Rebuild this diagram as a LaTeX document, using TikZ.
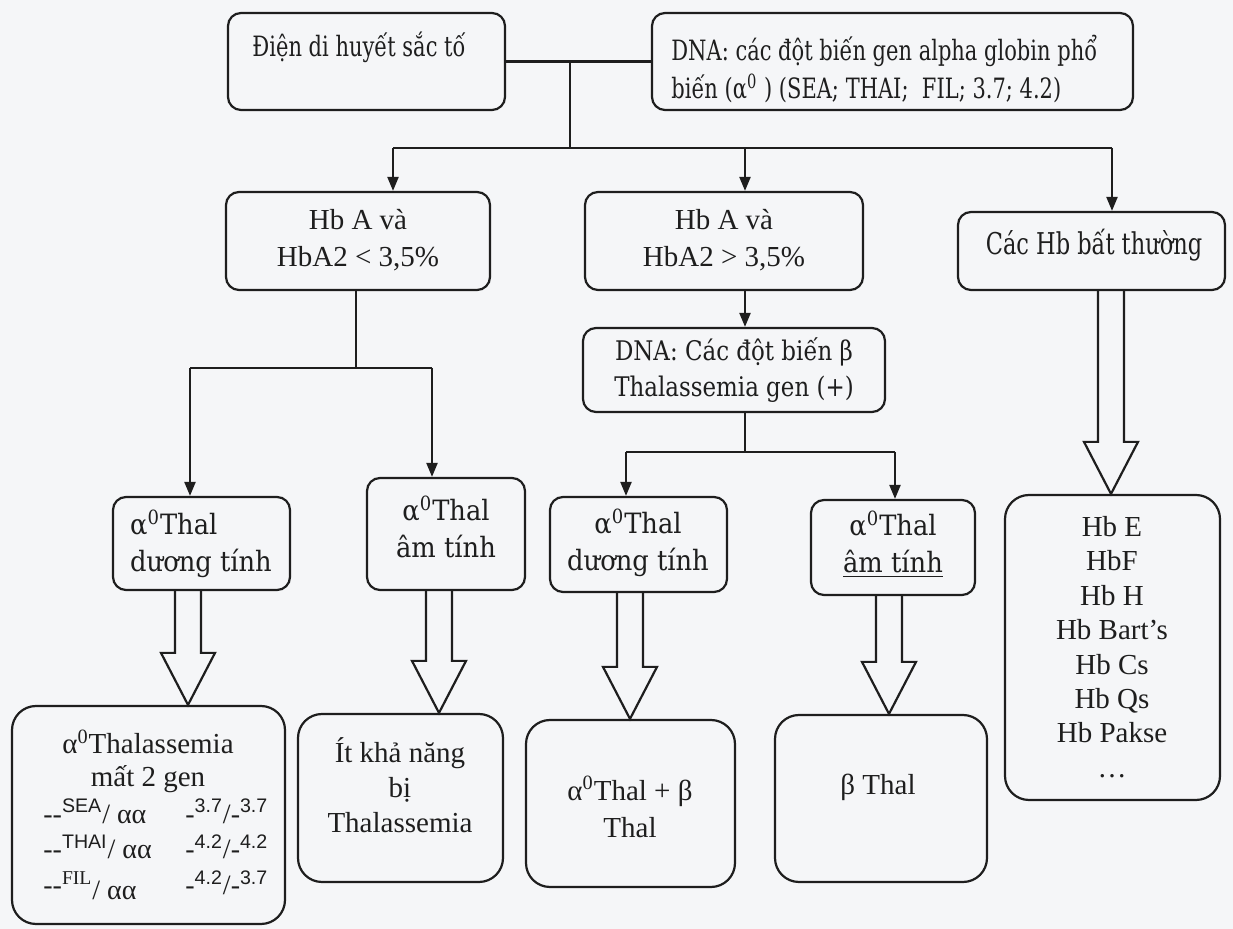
\documentclass[tikz,border=0pt]{standalone}
\usepackage{fontspec}
\setmainfont{Liberation Serif}
\setsansfont{Liberation Sans}
\newfontfamily\fbfam[FakeStretch=0.75]{DejaVu Serif}
\newfontfamily\fcfam[FakeStretch=0.92]{DejaVu Serif}
\newfontfamily\fdfam[FakeStretch=0.85]{DejaVu Serif}
\usetikzlibrary{arrows.meta,fit,calc}
\definecolor{ink}{RGB}{30,30,30}
\definecolor{bgc}{RGB}{245,246,248}
\newcommand\blockarr[3]{%
  \draw[blk] let \p1=(#1), \p2=(#2), \p3=(#3,0) in
    (\x3-6.5pt,\y1) -- (\x3-6.5pt,\y2+26pt) -- (\x3-13.5pt,\y2+26pt) -- (\x3,\y2)
    -- (\x3+13.5pt,\y2+26pt) -- (\x3+6.5pt,\y2+26pt) -- (\x3+6.5pt,\y1);}
\begin{document}
\begin{tikzpicture}[x=0.5pt,y=-0.5pt,
  box/.style={draw=ink, line width=1.1pt, rounded corners=6.5pt, inner sep=0pt},
  bigbox/.style={box, rounded corners=12pt},
  arr/.style={draw=ink, line width=1.1pt, -{Triangle[length=7pt,width=5.5pt]}},
  ln/.style={draw=ink, line width=1.1pt},
  blk/.style={draw=ink, line width=1.1pt, line join=miter},
  txt/.style={inner sep=0pt, align=center, text=ink},
  fA/.style={txt, font=\fontsize{14.5}{18.5}\selectfont},
  fB/.style={txt, font=\fbfam\fontsize{14}{19}\selectfont},
  fB2/.style={txt, font=\fbfam\fontsize{15}{19}\selectfont},
  fC/.style={txt, font=\fcfam\fontsize{14}{18.5}\selectfont},
  fD/.style={txt, font=\fdfam\fontsize{13.5}{18}\selectfont},
  fL/.style={txt, font=\fontsize{14.5}{17.2}\selectfont},
  fF/.style={txt, font=\fontsize{14}{17.5}\selectfont},
]
\fill[bgc] (0,0) rectangle (1233,929);
\useasboundingbox (0,0) rectangle (1233,929);

% row 1
\node[box, fit={(228,13) (505,110)}] (b1) {};
\node[fB, anchor=west] (t1) at (252,47) {Điện di huyết sắc tố};
\node[box, fit={(652,13) (1133,110)}] (b2) {};
\node[fB, anchor=west, align=left] (t2) at (671,69)
  {DNA: các đột biến gen alpha globin phổ\\biến (α\textsuperscript{0} ) (SEA; THAI;~ FIL; 3.7; 4.2)};
\draw[ln] (b1.east) -- (b2.west);
\coordinate (j1) at (570,61.5);
\coordinate (j2) at (570,148);
\draw[ln] (j1) -- (j2);
\coordinate (h1) at (393,148);
\coordinate (h2) at (745,148);
\coordinate (h3) at (1112,148);
\draw[ln] (h1) -- (h3);

% row 2
\node[box, fit={(226,192) (490,290)}] (l2) {};
\node[fA] (tl2) at (358,240) {Hb A và\\HbA2 < 3,5\%};
\node[box, fit={(585,192) (863,290)}] (m2) {};
\node[fA] (tm2) at (724,240) {Hb A và\\HbA2 > 3,5\%};
\node[box, fit={(958,212) (1225,290)}] (r2) {};
\node[fB2] (tr2) at (1094,245) {Các Hb bất thường};
\draw[arr] (h1) -- (h1 |- l2.north);
\draw[arr] (h2) -- (h2 |- m2.north);
\draw[arr] (h3) -- (h3 |- r2.north);

% DNA beta
\node[box, fit={(583,328) (885,412)}] (db) {};
\node[fD] (tdb) at (734,370) {DNA: Các đột biến β\\Thalassemia gen (+)};
\draw[arr] (h2 |- m2.south) -- (h2 |- db.north);

% row 3
\node[box, fit={(113,497) (290,590)}] (r31) {};
\node[fC, align=left] (t31) at (201,544) {α\textsuperscript{0}Thal\\dương tính};
\node[box, fit={(367,478) (525,590)}] (r32) {};
\node[fC] (t32) at (446,527) {α\textsuperscript{0}Thal\\âm tính};
\node[box, fit={(550,497) (727,592)}] (r33) {};
\node[fC] (t33) at (638,543) {α\textsuperscript{0}Thal\\dương tính};
\node[box, fit={(811,500) (975,595)}] (r34) {};
\node[fC] (t34) at (893,544) {α\textsuperscript{0}Thal\\\underline{âm tính}};
\node[bigbox, fit={(1005,495) (1220,800)}] (he) {};
\node[fL] (the) at (1112,647) {Hb E\\HbF\\Hb H\\Hb Bart’s\\Hb Cs\\Hb Qs\\Hb Pakse\\…};

\coordinate (lb) at (356,368);
\coordinate (lb1) at (190,368);
\coordinate (lb2) at (432,368);
\draw[ln] (l2.south -| lb) -- (lb);
\draw[ln] (lb1) -- (lb2);
\draw[arr] (lb1) -- (lb1 |- r31.north);
\draw[arr] (lb2) -- (lb2 |- r32.north);

\coordinate (dj) at (745,452);
\coordinate (dj1) at (626,452);
\coordinate (dj2) at (895,452);
\draw[ln] (h2 |- db.south) -- (dj);
\draw[ln] (dj1) -- (dj2);
\draw[arr] (dj1) -- (dj1 |- r33.north);
\draw[arr] (dj2) -- (dj2 |- r34.north);

% row 4
\node[bigbox, fit={(12,706) (285,924)}] (r41) {};
\node[fA] (t41a) at (148,742) {α\textsuperscript{0}Thalassemia};
\node[fA] (t41b) at (148,779) {mất 2 gen};
\node[fF, anchor=west, align=left] (t41c) at (43,852) {%
  \begin{tabular}{@{}p{71pt}@{}l@{}}
  {-}{-}\textsuperscript{\sffamily SEA}/ αα & -\textsuperscript{\sffamily 3.7}/-\textsuperscript{\sffamily 3.7}\\[0.3pt]
  {-}{-}\textsuperscript{\sffamily THAI}/ αα & -\textsuperscript{\sffamily 4.2}/-\textsuperscript{\sffamily 4.2}\\[0.3pt]
  {-}{-}\textsuperscript{FIL}\raisebox{-0.35ex}{/ αα} & -\textsuperscript{\sffamily 4.2}/-\textsuperscript{\sffamily 3.7}
  \end{tabular}};
\node[bigbox, fit={(298,714) (503,882)}] (r42) {};
\node[fA, font=\fontsize{14.5}{17.5}\selectfont] (t42) at (400,785) {Ít khả năng\\bị\\Thalassemia};
\node[bigbox, fit={(526,720) (735,887)}] (r43) {};
\node[fA] (t43) at (630,807) {α\textsuperscript{0}Thal + β\\Thal};
\node[bigbox, fit={(775,715) (987,882)}] (r44) {};
\node[fA] (t44) at (878,787) {β Thal};

% block arrows
\blockarr{r31.south}{r41.north}{188}
\blockarr{r32.south}{r42.north}{439}
\blockarr{r33.south}{r43.north}{630}
\blockarr{r34.south}{r44.north}{889}
\blockarr{r2.south}{he.north}{1111}
\end{tikzpicture}
\end{document}
